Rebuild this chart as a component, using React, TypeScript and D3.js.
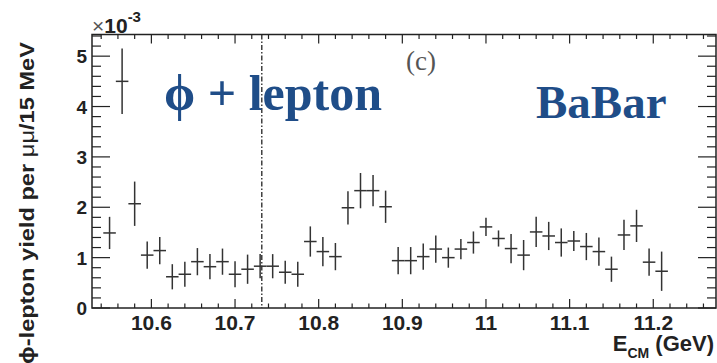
import * as d3 from 'd3'
import React from 'react'

// beam energy (GeV), phi+lepton yield per mu-mu (x1e-3) and its error
const energies = [
  10.550, 10.565, 10.580, 10.595, 10.610, 10.625, 10.640, 10.655, 10.670, 10.685,
  10.700, 10.715, 10.730, 10.745, 10.760, 10.775, 10.790, 10.805, 10.820, 10.835,
  10.850, 10.865, 10.880, 10.895, 10.910, 10.925, 10.940, 10.955, 10.970, 10.985,
  11.000, 11.015, 11.030, 11.045, 11.060, 11.075, 11.090, 11.105, 11.120, 11.135,
  11.150, 11.165, 11.180, 11.195, 11.210,
]
const yields = [
  1.49, 4.50, 2.07, 1.05, 1.14, 0.62, 0.67, 0.92, 0.82, 0.92,
  0.67, 0.77, 0.83, 0.83, 0.71, 0.67, 1.32, 1.12, 1.02, 1.99,
  2.33, 2.33, 2.01, 0.94, 0.94, 1.02, 1.17, 1.00, 1.17, 1.30,
  1.61, 1.38, 1.18, 1.05, 1.51, 1.43, 1.30, 1.33, 1.22, 1.12,
  0.77, 1.45, 1.63, 0.91, 0.73,
]
const errors = [
  0.32, 0.65, 0.44, 0.27, 0.27, 0.25, 0.25, 0.27, 0.25, 0.26,
  0.26, 0.29, 0.24, 0.24, 0.23, 0.25, 0.30, 0.29, 0.27, 0.33,
  0.35, 0.31, 0.32, 0.27, 0.27, 0.26, 0.27, 0.20, 0.20, 0.22,
  0.18, 0.16, 0.29, 0.30, 0.30, 0.28, 0.28, 0.20, 0.27, 0.28,
  0.25, 0.30, 0.32, 0.27, 0.39,
]
const binWidth = 0.015
const thresholdE = 10.732

const xTicks = [10.6, 10.7, 10.8, 10.9, 11.0, 11.1, 11.2]
const xTickLabels = ['10.6', '10.7', '10.8', '10.9', '11', '11.1', '11.2']
const yTicks = [0, 1, 2, 3, 4, 5]
const yTickLabels = ['0', '1', '2', '3', '4', '5']

const W = 717, H = 363
const M = { left: 92, right: 716, top: 34.5, bottom: 308 }

export default function App() {
  const
    x = d3.scaleLinear().domain([10.529, 11.275]).range([M.left, M.right]),
    y = d3.scaleLinear().domain([0, 5.43]).range([M.bottom, M.top]),
    xMinor = d3.range(10.54, 11.275, 0.02),
    yMinor = d3.range(0, 5.43, 0.2),
    ink = '#222',
    blue = '#1f4d88',
    sans = 'Liberation Sans, Arial, sans-serif',
    serif = 'Liberation Serif, Times New Roman, serif'

  const isMajorX = (v: number) => xTicks.some(t => Math.abs(t - v) < 1e-6)
  const isMajorY = (v: number) => yTicks.some(t => Math.abs(t - v) < 1e-6)

  return (
    <svg width={W} height={H} style={{ position: 'absolute', left: 0, top: 0, background: '#fff' }}>
      {/* frame */}
      <rect x={M.left} y={M.top} width={M.right - M.left} height={M.bottom - M.top}
        fill='none' stroke={ink} strokeWidth={1.5} />

      {/* x ticks bottom + top */}
      {xMinor.map((v, i) => {
        const len = isMajorX(v) ? 9 : 4.5
        return (
          <g key={'xt' + i} stroke={ink} strokeWidth={1.2}>
            <line x1={x(v)} x2={x(v)} y1={M.bottom} y2={M.bottom - len} />
            <line x1={x(v)} x2={x(v)} y1={M.top} y2={M.top + len} />
          </g>
        )
      })}
      {xTicks.filter(v => !xMinor.some(m => Math.abs(m - v) < 1e-6)).map((v, i) => (
        <g key={'xm' + i} stroke={ink} strokeWidth={1.2}>
          <line x1={x(v)} x2={x(v)} y1={M.bottom} y2={M.bottom - 9} />
          <line x1={x(v)} x2={x(v)} y1={M.top} y2={M.top + 9} />
        </g>
      ))}

      {/* y ticks left + right */}
      {yMinor.map((v, i) => {
        const len = isMajorY(v) ? 18 : 9
        return (
          <g key={'yt' + i} stroke={ink} strokeWidth={1.2}>
            <line x1={M.left} x2={M.left + len} y1={y(v)} y2={y(v)} />
            <line x1={M.right} x2={M.right - len} y1={y(v)} y2={y(v)} />
          </g>
        )
      })}

      {/* tick labels */}
      {xTicks.map((v, i) => (
        <text key={'xl' + i} x={x(v)} y={330} textAnchor='middle' fontFamily={sans}
          fontWeight='bold' fontSize={21} fill={ink}>{xTickLabels[i]}</text>
      ))}
      {yTicks.map((v, i) => (
        <text key={'yl' + i} x={87} y={y(v) + 7} textAnchor='end' fontFamily={sans}
          fontWeight='bold' fontSize={19} fill={ink}>{yTickLabels[i]}</text>
      ))}

      {/* exponent */}
      <text x={92} y={33} fontFamily={sans} fontSize={21} fill={ink}>
        <tspan fill='#555'>×</tspan><tspan fontWeight='bold'>10</tspan>
        <tspan fontSize={15} dy={-11} fontWeight='bold'>-3</tspan>
      </text>

      {/* axis titles */}
      <text x={714} y={351} textAnchor='end' fontFamily={sans} fontWeight='bold' fontSize={22} fill={ink}>
        <tspan>E</tspan><tspan fontSize={14} dy={7}>CM</tspan><tspan dy={-7}> (GeV)</tspan>
      </text>
      <text transform='translate(34,42) rotate(-90)' textAnchor='end' fontFamily={sans}
        fontWeight='bold' fontSize={21} fill={ink} textLength={322} lengthAdjust='spacingAndGlyphs'>
        <tspan>ϕ-lepton yield per </tspan><tspan fontWeight='normal'>μμ</tspan><tspan>/15 MeV</tspan>
      </text>

      {/* threshold line */}
      <line x1={x(thresholdE)} x2={x(thresholdE)} y1={M.top} y2={M.bottom}
        stroke='#222' strokeWidth={1.3} strokeDasharray='5,2,1.5,2' />

      {/* data points with errors */}
      {energies.map((e, i) => (
        <g key={'p' + i} stroke='#333' strokeWidth={1.5}>
          <line x1={x(e - binWidth / 2)} x2={x(e + binWidth / 2)} y1={y(yields[i])} y2={y(yields[i])} />
          <line x1={x(e)} x2={x(e)} y1={y(yields[i] - errors[i])} y2={y(yields[i] + errors[i])} />
        </g>
      ))}

      {/* annotations */}
      <text x={164} y={110} fontFamily={serif} fontWeight='bold' fontSize={50} fill={blue}>ϕ + lepton</text>
      <text x={536} y={118} fontFamily={serif} fontWeight='bold' fontSize={47} fill={blue}>BaBar</text>
      <text x={406} y={70} fontFamily={serif} fontSize={27} fill='#555'>(c)</text>
    </svg>
  )
}
